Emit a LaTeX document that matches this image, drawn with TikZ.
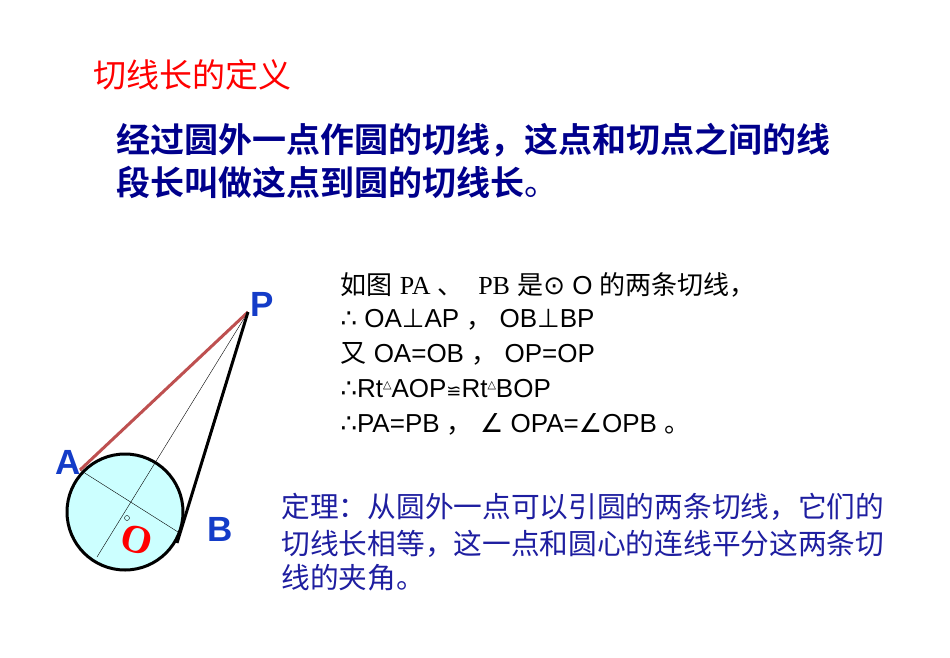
\documentclass[tikz,border=0pt]{standalone}
\usepackage{fontspec}
\setmainfont{Liberation Sans}
\newfontfamily\cjk{Noto Sans CJK SC}
\newfontfamily\cjkbold{Noto Sans CJK SC Bold}
\newfontfamily\serifl{Liberation Serif}
\newfontfamily\dv{DejaVu Sans}
\definecolor{navy}{RGB}{0,0,140}
\definecolor{tblue}{RGB}{30,30,160}
\definecolor{lblue}{RGB}{20,60,200}
\definecolor{brown}{RGB}{190,80,80}
\definecolor{cfill}{RGB}{204,255,255}
\newcommand{\tri}{\raisebox{0.35em}{\dv\fontsize{11}{11}\selectfont △}}
\begin{document}
\begin{tikzpicture}[x=1pt,y=-1pt,
  lab/.style={font=\fontsize{35}{35}\selectfont\bfseries, text=lblue},
  body/.style={anchor=west, font=\fontsize{26}{26}\selectfont},
  thm/.style={anchor=west, font=\cjk\fontsize{28.7}{28.7}\selectfont, text=tblue}]
\useasboundingbox (0,0) rectangle (950,658);
\coordinate (O) at (125,512);
\coordinate (P) at (248,312);
\coordinate (A) at (80,470);
\coordinate (B) at (177,543);
\coordinate (D) at (97,557);
\coordinate (E) at (178,532);
\draw[line width=3pt, fill=cfill] (O) circle (58);
\draw[thin] (P) -- (D);
\draw[thin] (A) -- (E);
\draw[thin] (127,518) circle (2.5);
\draw[line width=3pt, brown] (A) -- (P);
\draw[line width=3pt] (P) -- (B);
\node[lab] (lp) at (262,304) {P};
\node[lab] (la) at (68,462) {A};
\node[lab] (lb) at (220,529) {B};
\node[font=\serifl\fontsize{40}{40}\selectfont\bfseries, text=red, rotate=-15] (lo) at (137,540) {O};
\node[anchor=west, text=red, font=\cjk\fontsize{33}{33}\selectfont] (t) at (90,75) {切线长的定义};
\node[anchor=west, text=navy, font=\cjkbold\fontsize{34}{34}\selectfont] (h1) at (113,140) {经过圆外一点作圆的切线，这点和切点之间的线};
\node[anchor=west, text=navy, font=\cjkbold\fontsize{34}{34}\selectfont] (h2) at (113,182) {段长叫做这点到圆的切线长{\cjk 。}};
\node[body] (b1) at (337,285) {{\cjk 如图}\ {\serifl PA}\ {\cjk 、}\ \ {\serifl PB}\ {\cjk 是}{\dv ⊙}\ O\ {\cjk 的两条切线，}};
\node[body] (b2) at (337,320) {{\dv ∴} OA{\dv ⊥}AP\ {\cjk ，}\ OB{\dv ⊥}BP};
\node[body] (b3) at (337,354) {{\cjk 又} OA=OB\ {\cjk ，}\ OP=OP};
\node[body] (b4) at (337,389) {{\dv ∴}Rt\tri AOP{\dv\fontsize{18}{18}\selectfont ≌}Rt\tri BOP};
\node[body] (b5) at (337,424) {{\dv ∴}PA=PB\ {\cjk ，}\ {\dv ∠} OPA={\dv ∠}OPB\ {\cjk 。}};
\node[thm] (m1) at (278,507) {定理：从圆外一点可以引圆的两条切线，它们的};
\node[thm] (m2) at (278,544) {切线长相等，这一点和圆心的连线平分这两条切};
\node[thm] (m3) at (278,578) {线的夹角。};
\end{tikzpicture}
\end{document}
